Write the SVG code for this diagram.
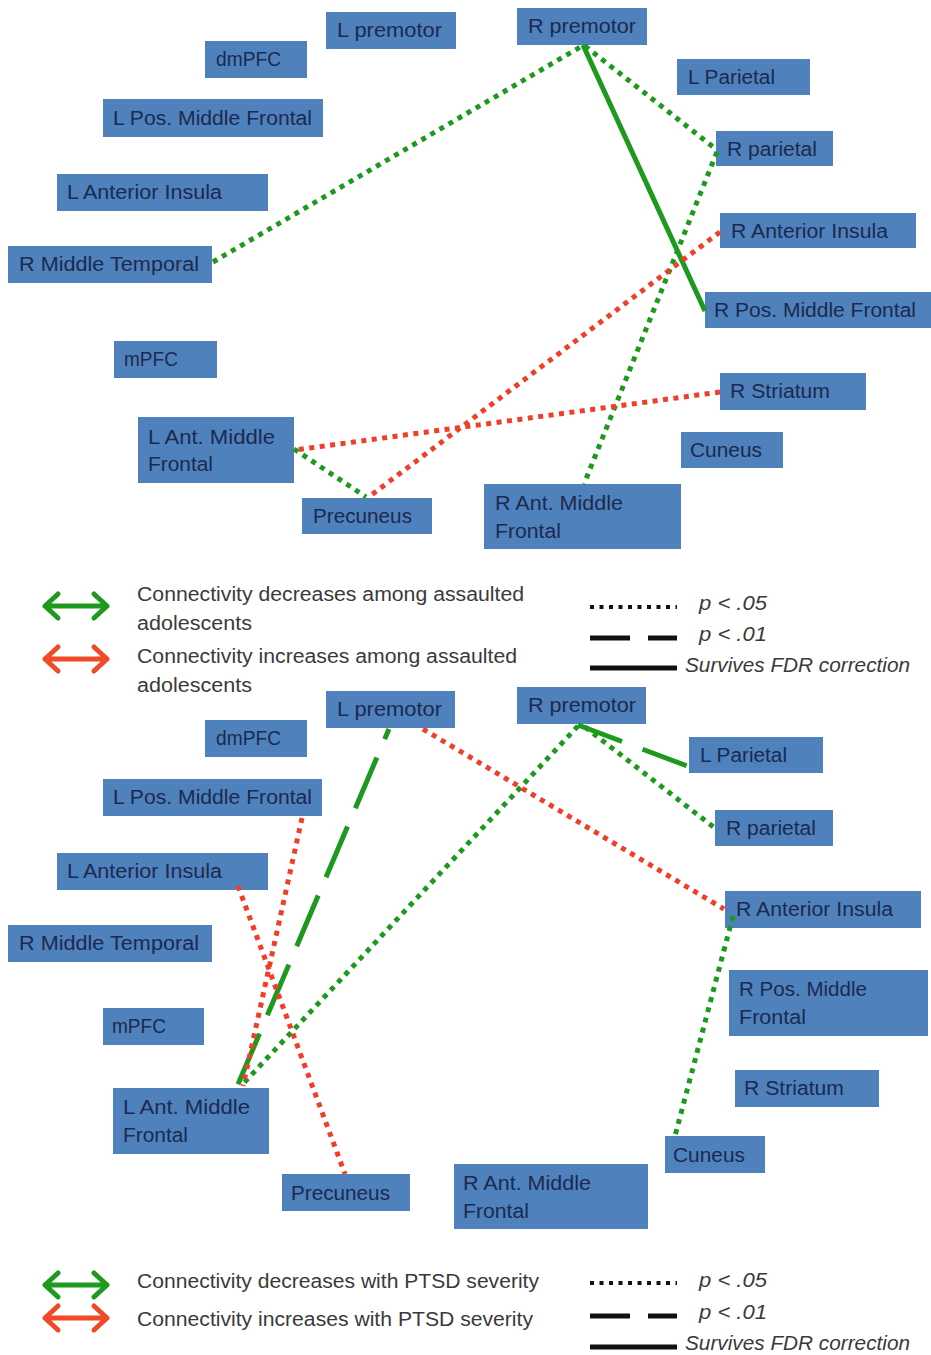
<svg xmlns="http://www.w3.org/2000/svg" width="931" height="1355" viewBox="0 0 931 1355">
<style>
.box{fill:#4f81bd}
.lbl{font-family:"Liberation Sans",Arial,sans-serif;font-size:20px;fill:#1b2a4e}
.leg{font-family:"Liberation Sans",Arial,sans-serif;font-size:20px;fill:#3a3a3a}
.legi{font-family:"Liberation Sans",Arial,sans-serif;font-size:20px;fill:#3a3a3a;font-style:italic}
.dg{fill:none;stroke:#1d9a1d;stroke-width:5;stroke-dasharray:5 5.5}
.dr{fill:none;stroke:#f03e28;stroke-width:5;stroke-dasharray:5 5.5}
.sg{fill:none;stroke:#1d9a1d;stroke-width:5}
.ag{fill:none;stroke:#1d9a1d;stroke-width:5;stroke-linejoin:round;stroke-linecap:round}
.ar{fill:none;stroke:#f04a26;stroke-width:5;stroke-linejoin:round;stroke-linecap:round}
.kd{fill:none;stroke:#111;stroke-width:4;stroke-dasharray:4 5.5}
.kk{fill:none;stroke:#111;stroke-width:5}
</style>
<rect width="931" height="1355" fill="#fff"/>

<!-- ===== Top panel nodes ===== -->
<g id="a-l-premotor"><rect class="box" x="326" y="12" width="130" height="37"/><text class="lbl" x="337" y="37" textLength="105" lengthAdjust="spacingAndGlyphs">L premotor</text></g>
<g id="a-dmpfc"><rect class="box" x="205" y="41" width="102" height="37"/><text class="lbl" x="216" y="66" textLength="65" lengthAdjust="spacingAndGlyphs">dmPFC</text></g>
<g id="a-l-pos-middle-frontal"><rect class="box" x="103" y="99" width="220" height="38"/><text class="lbl" x="113" y="125" textLength="199" lengthAdjust="spacingAndGlyphs">L Pos. Middle Frontal</text></g>
<g id="a-l-anterior-insula"><rect class="box" x="57" y="174" width="211" height="37"/><text class="lbl" x="67" y="199" textLength="155" lengthAdjust="spacingAndGlyphs">L Anterior Insula</text></g>
<g id="a-r-middle-temporal"><rect class="box" x="8" y="246" width="204" height="37"/><text class="lbl" x="19" y="271" textLength="180" lengthAdjust="spacingAndGlyphs">R Middle Temporal</text></g>
<g id="a-r-premotor"><rect class="box" x="517" y="8" width="130" height="37"/><text class="lbl" x="528" y="33" textLength="108" lengthAdjust="spacingAndGlyphs">R premotor</text></g>
<g id="a-l-parietal"><rect class="box" x="677" y="59" width="133" height="36"/><text class="lbl" x="688" y="84" textLength="87" lengthAdjust="spacingAndGlyphs">L Parietal</text></g>
<g id="a-r-parietal"><rect class="box" x="716" y="131" width="117" height="35"/><text class="lbl" x="727" y="156" textLength="90" lengthAdjust="spacingAndGlyphs">R parietal</text></g>
<g id="a-r-anterior-insula"><rect class="box" x="720" y="213" width="196" height="35"/><text class="lbl" x="731" y="238" textLength="157" lengthAdjust="spacingAndGlyphs">R Anterior Insula</text></g>
<g id="a-r-pos-middle-frontal"><rect class="box" x="705" y="292" width="226" height="36"/><text class="lbl" x="714" y="317" textLength="202" lengthAdjust="spacingAndGlyphs">R Pos. Middle Frontal</text></g>
<g id="a-mpfc"><rect class="box" x="114" y="341" width="103" height="37"/><text class="lbl" x="124" y="366" textLength="54" lengthAdjust="spacingAndGlyphs">mPFC</text></g>
<g id="a-l-ant-middle-frontal"><rect class="box" x="138" y="417" width="156" height="66"/><text class="lbl" x="148" y="444" textLength="127" lengthAdjust="spacingAndGlyphs">L Ant. Middle</text><text class="lbl" x="148" y="471" textLength="65" lengthAdjust="spacingAndGlyphs">Frontal</text></g>
<g id="a-precuneus"><rect class="box" x="302" y="498" width="130" height="36"/><text class="lbl" x="313" y="523" textLength="99" lengthAdjust="spacingAndGlyphs">Precuneus</text></g>
<g id="a-r-striatum"><rect class="box" x="720" y="373" width="146" height="37"/><text class="lbl" x="730" y="398" textLength="100" lengthAdjust="spacingAndGlyphs">R Striatum</text></g>
<g id="a-cuneus"><rect class="box" x="681" y="432" width="102" height="36"/><text class="lbl" x="690" y="457" textLength="72" lengthAdjust="spacingAndGlyphs">Cuneus</text></g>
<g id="a-r-ant-middle-frontal"><rect class="box" x="484" y="484" width="197" height="65"/><text class="lbl" x="495" y="510" textLength="128" lengthAdjust="spacingAndGlyphs">R Ant. Middle</text><text class="lbl" x="495" y="538" textLength="66" lengthAdjust="spacingAndGlyphs">Frontal</text></g>

<!-- ===== Top panel connectors ===== -->
<g id="a-connectors">
<line class="dg" x1="213" y1="262" x2="582" y2="46"/>
<line class="dg" x1="585" y1="46" x2="717" y2="150"/>
<line class="sg" x1="583" y1="45" x2="705" y2="311"/>
<line class="dg" x1="717" y1="152" x2="584" y2="484"/>
<line class="dr" x1="720" y1="232" x2="370" y2="496"/>
<line class="dr" x1="720" y1="392" x2="295" y2="450"/>
<line class="dg" x1="294" y1="449" x2="366" y2="497"/>
</g>

<!-- ===== Top legend ===== -->
<g id="legend-top">
<path class="ag" d="M45,606 H107 M58,594 L45,606 L58,618 M94,594 L107,606 L94,618"/>
<path class="ar" d="M45,659 H107 M58,647 L45,659 L58,671 M94,647 L107,659 L94,671"/>
<text class="leg" x="137" y="601" textLength="387" lengthAdjust="spacingAndGlyphs">Connectivity decreases among assaulted</text>
<text class="leg" x="137" y="630" textLength="115" lengthAdjust="spacingAndGlyphs">adolescents</text>
<text class="leg" x="137" y="663" textLength="380" lengthAdjust="spacingAndGlyphs">Connectivity increases among assaulted</text>
<text class="leg" x="137" y="692" textLength="115" lengthAdjust="spacingAndGlyphs">adolescents</text>
<line class="kd" x1="590" y1="607" x2="677" y2="607"/>
<text class="legi" x="699" y="610" textLength="68" lengthAdjust="spacingAndGlyphs">p &lt; .05</text>
<path class="kk" d="M590,638 H630 M648,638 H677"/>
<text class="legi" x="699" y="641" textLength="68" lengthAdjust="spacingAndGlyphs">p &lt; .01</text>
<line class="kk" x1="590" y1="668" x2="677" y2="668"/>
<text class="legi" x="685" y="672" textLength="225" lengthAdjust="spacingAndGlyphs">Survives FDR correction</text>
</g>

<!-- ===== Bottom panel nodes ===== -->
<g id="b-l-premotor"><rect class="box" x="326" y="691" width="129" height="37"/><text class="lbl" x="337" y="716" textLength="105" lengthAdjust="spacingAndGlyphs">L premotor</text></g>
<g id="b-dmpfc"><rect class="box" x="205" y="720" width="102" height="37"/><text class="lbl" x="216" y="745" textLength="65" lengthAdjust="spacingAndGlyphs">dmPFC</text></g>
<g id="b-l-pos-middle-frontal"><rect class="box" x="103" y="779" width="219" height="37"/><text class="lbl" x="113" y="804" textLength="199" lengthAdjust="spacingAndGlyphs">L Pos. Middle Frontal</text></g>
<g id="b-l-anterior-insula"><rect class="box" x="57" y="853" width="211" height="37"/><text class="lbl" x="67" y="878" textLength="155" lengthAdjust="spacingAndGlyphs">L Anterior Insula</text></g>
<g id="b-r-middle-temporal"><rect class="box" x="8" y="925" width="204" height="37"/><text class="lbl" x="19" y="950" textLength="180" lengthAdjust="spacingAndGlyphs">R Middle Temporal</text></g>
<g id="b-r-premotor"><rect class="box" x="517" y="687" width="129" height="37"/><text class="lbl" x="528" y="712" textLength="108" lengthAdjust="spacingAndGlyphs">R premotor</text></g>
<g id="b-l-parietal"><rect class="box" x="689" y="737" width="134" height="36"/><text class="lbl" x="700" y="762" textLength="87" lengthAdjust="spacingAndGlyphs">L Parietal</text></g>
<g id="b-r-parietal"><rect class="box" x="715" y="810" width="118" height="36"/><text class="lbl" x="726" y="835" textLength="90" lengthAdjust="spacingAndGlyphs">R parietal</text></g>
<g id="b-r-anterior-insula"><rect class="box" x="725" y="891" width="196" height="37"/><text class="lbl" x="736" y="916" textLength="157" lengthAdjust="spacingAndGlyphs">R Anterior Insula</text></g>
<g id="b-r-pos-middle-frontal"><rect class="box" x="729" y="970" width="199" height="66"/><text class="lbl" x="739" y="996" textLength="128" lengthAdjust="spacingAndGlyphs">R Pos. Middle</text><text class="lbl" x="739" y="1024" textLength="67" lengthAdjust="spacingAndGlyphs">Frontal</text></g>
<g id="b-mpfc"><rect class="box" x="103" y="1008" width="101" height="37"/><text class="lbl" x="112" y="1033" textLength="54" lengthAdjust="spacingAndGlyphs">mPFC</text></g>
<g id="b-r-striatum"><rect class="box" x="735" y="1070" width="144" height="37"/><text class="lbl" x="744" y="1095" textLength="100" lengthAdjust="spacingAndGlyphs">R Striatum</text></g>
<g id="b-l-ant-middle-frontal"><rect class="box" x="113" y="1088" width="156" height="66"/><text class="lbl" x="123" y="1114" textLength="127" lengthAdjust="spacingAndGlyphs">L Ant. Middle</text><text class="lbl" x="123" y="1142" textLength="65" lengthAdjust="spacingAndGlyphs">Frontal</text></g>
<g id="b-cuneus"><rect class="box" x="665" y="1136" width="100" height="37"/><text class="lbl" x="673" y="1162" textLength="72" lengthAdjust="spacingAndGlyphs">Cuneus</text></g>
<g id="b-precuneus"><rect class="box" x="282" y="1174" width="128" height="37"/><text class="lbl" x="291" y="1200" textLength="99" lengthAdjust="spacingAndGlyphs">Precuneus</text></g>
<g id="b-r-ant-middle-frontal"><rect class="box" x="454" y="1164" width="194" height="65"/><text class="lbl" x="463" y="1190" textLength="128" lengthAdjust="spacingAndGlyphs">R Ant. Middle</text><text class="lbl" x="463" y="1218" textLength="66" lengthAdjust="spacingAndGlyphs">Frontal</text></g>

<!-- ===== Bottom panel connectors ===== -->
<g id="b-connectors">
<line class="sg" x1="389" y1="729" x2="236" y2="1089" style="stroke-dasharray:55 20;stroke-dashoffset:44"/>
<line class="dg" x1="578" y1="726" x2="241" y2="1086"/>
<line class="dg" x1="585" y1="727" x2="716" y2="829"/>
<line class="sg" x1="578" y1="725" x2="690" y2="767" style="stroke-dasharray:47 22"/>
<line class="dr" x1="423" y1="729" x2="724" y2="909"/>
<line class="dg" x1="733" y1="916" x2="675" y2="1136"/>
<line class="dr" x1="302" y1="818" x2="243" y2="1086"/>
<line class="dr" x1="238" y1="886" x2="345" y2="1174"/>
</g>

<!-- ===== Bottom legend ===== -->
<g id="legend-bottom">
<path class="ag" d="M45,1285 H107 M58,1273 L45,1285 L58,1297 M94,1273 L107,1285 L94,1297"/>
<path class="ar" d="M45,1318 H107 M58,1306 L45,1318 L58,1330 M94,1306 L107,1318 L94,1330"/>
<text class="leg" x="137" y="1288" textLength="402" lengthAdjust="spacingAndGlyphs">Connectivity decreases with PTSD severity</text>
<text class="leg" x="137" y="1326" textLength="396" lengthAdjust="spacingAndGlyphs">Connectivity increases with PTSD severity</text>
<line class="kd" x1="590" y1="1283" x2="677" y2="1283"/>
<text class="legi" x="699" y="1287" textLength="68" lengthAdjust="spacingAndGlyphs">p &lt; .05</text>
<path class="kk" d="M590,1316 H630 M648,1316 H677"/>
<text class="legi" x="699" y="1319" textLength="68" lengthAdjust="spacingAndGlyphs">p &lt; .01</text>
<line class="kk" x1="590" y1="1347" x2="677" y2="1347"/>
<text class="legi" x="685" y="1350" textLength="225" lengthAdjust="spacingAndGlyphs">Survives FDR correction</text>
</g>
</svg>
